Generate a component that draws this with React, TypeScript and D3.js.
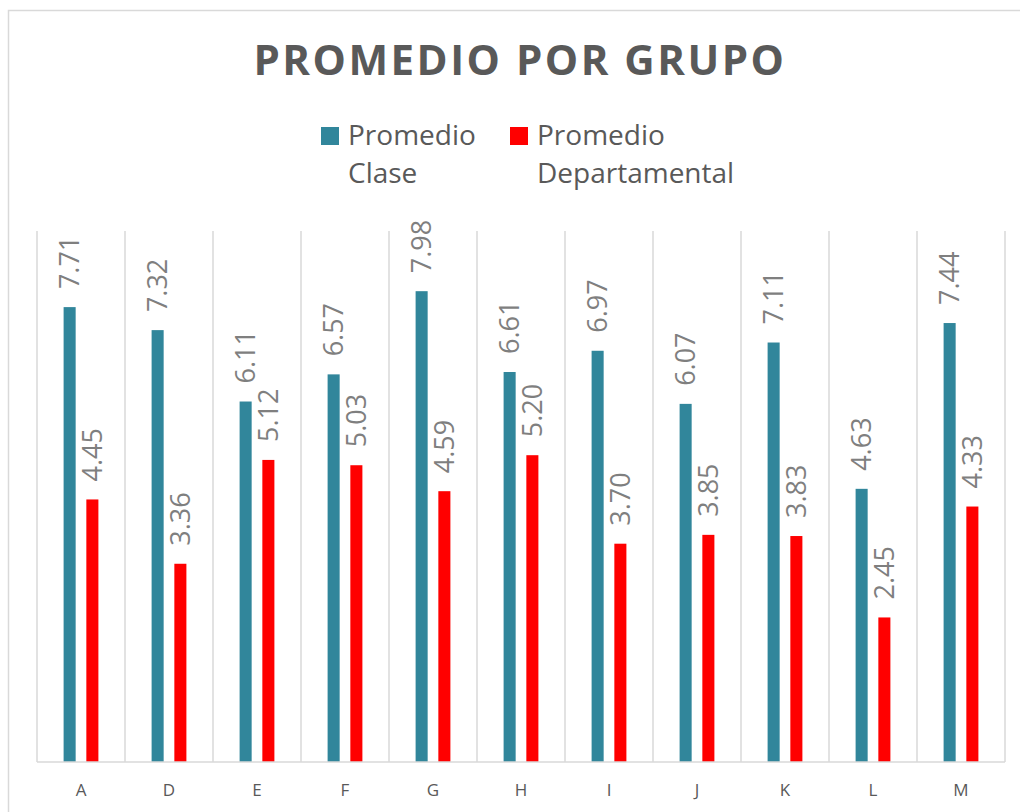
import { useEffect, useRef } from 'react';
import * as d3 from 'd3';

const grupos = ['A', 'D', 'E', 'F', 'G', 'H', 'I', 'J', 'K', 'L', 'M'];
const promedioClase = [7.71, 7.32, 6.11, 6.57, 7.98, 6.61, 6.97, 6.07, 7.11, 4.63, 7.44];
const promedioDepartamental = [4.45, 3.36, 5.12, 5.03, 4.59, 5.2, 3.7, 3.85, 3.83, 2.45, 4.33];
const series = ['Promedio Clase', 'Promedio Departamental'];
const colores = ['#31869b', '#ff0000'];

const W = 1020;
const H = 812;
const plot = { left: 37, right: 1005, top: 231, bottom: 762 };
const FONT = "'Open Sans', 'Noto Sans', sans-serif";

const App = () => {
  const ref = useRef<SVGSVGElement>(null);

  useEffect(() => {
    const svg = d3.select(ref.current);
    svg.selectAll('*').remove();

    // outer chart border (runs off the right/bottom edge)
    svg
      .append('rect')
      .attr('x', 8.5)
      .attr('y', 10.5)
      .attr('width', W + 20)
      .attr('height', H + 20)
      .attr('fill', 'white')
      .attr('stroke', '#d9d9d9')
      .attr('stroke-width', 1.5);

    svg
      .append('text')
      .attr('x', 520)
      .attr('y', 75)
      .attr('text-anchor', 'middle')
      .style('font-family', FONT)
      .style('font-weight', 700)
      .style('font-size', '42px')
      .style('letter-spacing', '2.5px')
      .attr('fill', '#595959')
      .text('PROMEDIO POR GRUPO');

    // legend
    const legendX = [321, 510];
    const legend = svg
      .selectAll('.legend')
      .data(series)
      .enter()
      .append('g')
      .attr('class', 'legend')
      .attr('transform', (_d, i) => `translate(${legendX[i]},0)`);
    legend
      .append('rect')
      .attr('x', 0)
      .attr('y', 127)
      .attr('width', 18)
      .attr('height', 18)
      .attr('fill', (_d, i) => colores[i]);
    legend.each(function (d) {
      const words = d.split(' ');
      const t = d3
        .select(this)
        .append('text')
        .style('font-family', FONT)
        .style('font-size', '28px')
        .attr('fill', '#595959');
      words.forEach((w, j) => {
        t.append('tspan').attr('x', 27).attr('y', 145 + j * 38).text(w);
      });
    });

    const x0 = d3.scaleBand().domain(grupos).range([plot.left, plot.right]).padding(0);
    const x1 = d3
      .scaleBand()
      .domain(series)
      .range([0, x0.bandwidth()])
      .paddingInner(0.47)
      .paddingOuter(1.17);
    const y = d3.scaleLinear().domain([0, 9]).range([plot.bottom, plot.top]);

    // vertical gridlines at category edges
    const edges = grupos.map((g) => x0(g) as number).concat([plot.right]);
    svg
      .selectAll('.grid')
      .data(edges)
      .enter()
      .append('line')
      .attr('x1', (d) => d)
      .attr('x2', (d) => d)
      .attr('y1', plot.top)
      .attr('y2', plot.bottom)
      .attr('stroke', '#d9d9d9')
      .attr('stroke-width', 1.5);

    const rows = grupos.map((g, i) => ({
      g,
      vals: [promedioClase[i], promedioDepartamental[i]],
    }));

    const groups = svg
      .selectAll('.grupo')
      .data(rows)
      .enter()
      .append('g')
      .attr('transform', (d) => `translate(${x0(d.g)},0)`);

    groups
      .selectAll('rect')
      .data((d) => d.vals.map((v, k) => ({ v, s: series[k], k })))
      .enter()
      .append('rect')
      .attr('x', (d) => x1(d.s) as number)
      .attr('width', x1.bandwidth())
      .attr('y', (d) => y(d.v))
      .attr('height', (d) => plot.bottom - y(d.v))
      .attr('fill', (d) => colores[d.k]);

    groups
      .selectAll('text')
      .data((d) => d.vals.map((v, k) => ({ v, s: series[k], k })))
      .enter()
      .append('text')
      .attr(
        'transform',
        (d) => `translate(${(x1(d.s) as number) + x1.bandwidth() / 2},${y(d.v) - 18}) rotate(-90)`
      )
      .attr('dy', '0.35em')
      .style('font-family', FONT)
      .style('font-size', '27px')
      .attr('fill', '#7f7f7f')
      .text((d) => d.v.toFixed(2));

    // baseline
    svg
      .append('line')
      .attr('x1', plot.left)
      .attr('x2', plot.right)
      .attr('y1', plot.bottom)
      .attr('y2', plot.bottom)
      .attr('stroke', '#d9d9d9')
      .attr('stroke-width', 1.5);

    svg
      .selectAll('.xlabel')
      .data(grupos)
      .enter()
      .append('text')
      .attr('x', (d) => (x0(d) as number) + x0.bandwidth() / 2)
      .attr('y', 796)
      .attr('text-anchor', 'middle')
      .style('font-family', FONT)
      .style('font-size', '17px')
      .attr('fill', '#595959')
      .text((d) => d);
  }, []);

  return (
    <svg
      ref={ref}
      width={W}
      height={H}
      style={{ position: 'absolute', left: 0, top: 0, display: 'block', background: 'white' }}
    />
  );
};

export default App;
